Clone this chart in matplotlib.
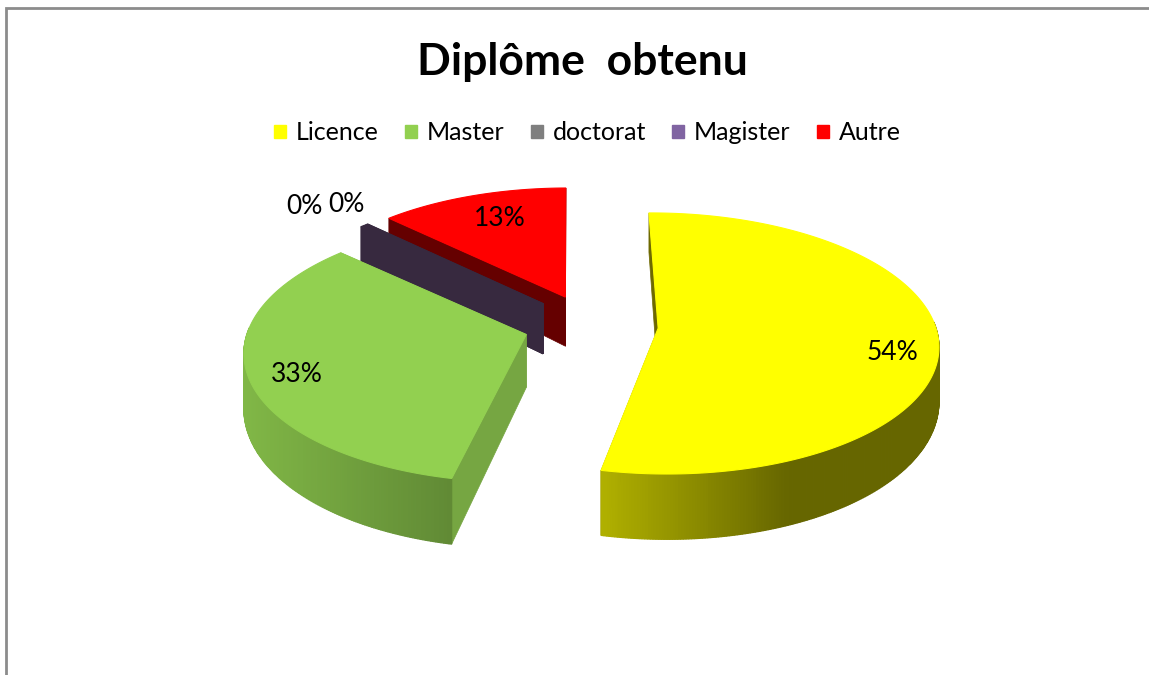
import numpy as np
import matplotlib
matplotlib.use("Agg")
import matplotlib.pyplot as plt
from matplotlib.patches import Patch

# chart data
categories = ["Licence", "Master", "doctorat", "Magister", "Autre"]
values = [53.5, 33.48, 0.31, 0.2, 12.51]
legend_colors = ["#FFFF00", "#92D050", "#7F7F7F", "#8064A2", "#FF0000"]

# look of the 3D pie
top_colors = ["#FFFF00", "#92D050", "#37293F", "#37293F", "#FF0000"]
cut_colors = ["#6E6900", "#76A642", "#37293F", "#37293F", "#650000"]
wall_shades = [(0.69, 0.40), (0.88, 0.66), (1.0, 1.0), (1.0, 1.0), (0.4, 0.4)]
wall_spans = [0.55, 1.0, 1.0, 1.0, 1.0]
draw_order = [4, 2, 3, 1, 0]
label_pos = [(892, 352), (297, 374), (304, 206), (346, 204), (500, 218)]

START_ANGLE = -0.5
EXPLODE = 0.243
CX, CY = 591, 325
RX, RY = 277, 128
PERSP = 0.117
DEPTH, DEPTH_PERSP = 52, 0.25

plt.rcParams["font.family"] = ["Lato", "DejaVu Sans"]


# unit disc coordinates to screen pixels, top face
def project(u, v):
    w = 1 - PERSP * v
    return CX + RX * u / w, CY + RY * v / w


# same thing for the bottom edge of the pie
def project_low(u, v):
    x, y = project(u, v)
    return x, y + DEPTH * (1 + DEPTH_PERSP * v)


# angles are clockwise from the top of the pie
def disc_point(angle, radius, off_u, off_v):
    a = np.radians(angle)
    return off_u + radius * np.sin(a), off_v - radius * np.cos(a)


def blend(color, shade):
    return tuple(c * shade for c in matplotlib.colors.to_rgb(color))


def draw_slice(ax, i, a0, a1):
    # explode along the slice middle
    mid = np.radians((a0 + a1) / 2)
    off_u, off_v = EXPLODE * np.sin(mid), -EXPLODE * np.cos(mid)
    angles = np.linspace(a0, a1, max(2, int(abs(a1 - a0) * 2)))
    rim_u, rim_v = disc_point(angles, 1.0, off_u, off_v)

    # the two cut faces
    for a in (a0, a1):
        eu, ev = disc_point(a, 1.0, off_u, off_v)
        pts = [project(off_u, off_v), project(eu, ev),
               project_low(eu, ev), project_low(off_u, off_v)]
        ax.fill(*zip(*pts), color=cut_colors[i], lw=0.5)

    # outer wall, shaded strip by strip from left to right
    xs = project(rim_u, rim_v)[0]
    left, right = wall_shades[i]
    span = max(xs.max() - xs.min(), 1)
    for j in range(len(angles) - 1):
        # back half of the rim cannot be seen
        if rim_v[j] - off_v < -0.05:
            continue
        t = min(1.0, (min(xs[j], xs[j + 1]) - xs.min()) / (wall_spans[i] * span))
        col = blend(top_colors[i], left + (right - left) * t)
        pts = [project(rim_u[j], rim_v[j]), project(rim_u[j + 1], rim_v[j + 1]),
               project_low(rim_u[j + 1], rim_v[j + 1]), project_low(rim_u[j], rim_v[j])]
        ax.fill(*zip(*pts), color=col, lw=0.9)

    # top face
    ax.fill(*project(np.r_[off_u, rim_u], np.r_[off_v, rim_v]), color=top_colors[i], lw=0.8)


fig = plt.figure(figsize=(11.49, 6.75), dpi=100)
ax = fig.add_axes([0, 0, 1, 1])
ax.set_xlim(0, 1149)
ax.set_ylim(675, 0)
ax.axis("off")

# chart frame, only top and left are inside the crop
ax.plot([6, 6, 1149], [675, 8, 8], color="#8C8C8C", lw=2, solid_joinstyle="miter")

# slice angles from the values
sweep = np.array(values) / sum(values) * 360
edges = START_ANGLE + np.r_[0, np.cumsum(sweep)]
for i in draw_order:
    draw_slice(ax, i, edges[i], edges[i + 1])

for v, (x, y) in zip(values, label_pos):
    ax.text(x, y, f"{v:.0f}%", fontsize=19, ha="center", va="center", color="black")

ax.text(582.5, 62, "Diplôme  obtenu", fontsize=32, fontweight="bold", ha="center", va="center")

handles = [Patch(color=c, label=n) for c, n in zip(legend_colors, categories)]
ax.legend(handles=handles, loc="center", bbox_to_anchor=(587.5 / 1149, 1 - 133 / 675),
          ncol=5, frameon=False, fontsize=18, handlelength=0.47, handleheight=0.47,
          handletextpad=0.4, columnspacing=1.05, borderpad=0)

fig.savefig("out.png", dpi=100)
